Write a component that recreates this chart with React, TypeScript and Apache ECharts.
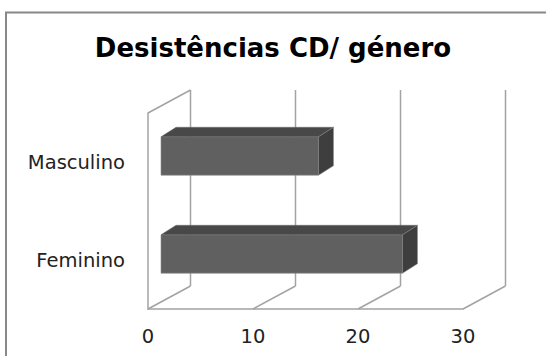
import React, { useEffect, useRef } from "react";
import * as echarts from "echarts";

const titleText = "Desistências CD/ género";
const categories = ["Feminino", "Masculino"];
const values = [23, 15];
const xTicks = [0, 10, 20, 30];

// layout (pixels)
const GRID = { left: 148, top: 113, width: 315, height: 196 };
const BACK = [42.5, -23];
const BAR_FRONT = [13, -6];
const BAR_DEPTH = [15, -9.5];
const BAR_FRAC = 0.392;
const LINE = "#a3a3a3";

export default function App() {
  const ref = useRef<HTMLDivElement>(null);
  useEffect(() => {
    document.body.style.margin = "0";
    const chart = echarts.init(ref.current!, null, { renderer: "svg" });
    const option: any = {
      animation: false,
      backgroundColor: "#ffffff",
      title: {
        text: titleText,
        left: "center",
        top: 30,
        textStyle: { fontFamily: "DejaVu Sans", fontWeight: "bold", fontSize: 26, color: "#000" },
      },
      graphic: [
        {
          type: "rect",
          shape: { x: 6, y: 12.5, width: 600, height: 400 },
          style: { fill: "none", stroke: "#888888", lineWidth: 2 },
          silent: true,
        },
      ],
      grid: { left: GRID.left, top: GRID.top, width: GRID.width, height: GRID.height },
      xAxis: {
        type: "value",
        min: xTicks[0],
        max: xTicks[xTicks.length - 1],
        interval: xTicks[1] - xTicks[0],
        axisLine: { show: true, lineStyle: { color: LINE, width: 1.5 } },
        axisTick: { show: false },
        splitLine: { show: false },
        axisLabel: { fontFamily: "DejaVu Sans", fontSize: 19.5, color: "#222", margin: 17 },
      },
      yAxis: {
        type: "category",
        data: categories,
        axisLine: { show: true, lineStyle: { color: LINE, width: 1.5 } },
        axisTick: { show: false },
        splitLine: { show: false },
        axisLabel: { fontFamily: "DejaVu Sans", fontSize: 19.5, color: "#222", margin: 23 },
      },
      series: [
        {
          type: "custom",
          z: 1,
          silent: true,
          data: xTicks.map((t) => [t, 0]),
          renderItem: (params: any, api: any) => {
            const v = api.value(0);
            const p = api.coord([v, 0]);
            const cs = params.coordSys;
            const x = p[0];
            const top = cs.y;
            const bot = cs.y + cs.height;
            const st = { stroke: LINE, lineWidth: 1.5, fill: "none" };
            const children: any[] = [
              { type: "line", shape: { x1: x + BACK[0], y1: top + BACK[1], x2: x + BACK[0], y2: bot + BACK[1] }, style: st },
              { type: "line", shape: { x1: x, y1: bot, x2: x + BACK[0], y2: bot + BACK[1] }, style: st },
            ];
            if (v === xTicks[0]) {
              children.push({ type: "line", shape: { x1: x, y1: top, x2: x + BACK[0], y2: top + BACK[1] }, style: st });
            }
            return { type: "group", children };
          },
        },
        {
          type: "custom",
          z: 2,
          data: values.map((v, i) => [v, i]),
          renderItem: (params: any, api: any) => {
            const v = api.value(0);
            const c = api.value(1);
            const p0 = api.coord([0, c]);
            const p1 = api.coord([v, c]);
            const band = api.size([0, 1])[1];
            const h = band * BAR_FRAC;
            const x0 = p0[0] + BAR_FRONT[0];
            const x1 = p1[0] + BAR_FRONT[0];
            const cy = p0[1] + BAR_FRONT[1];
            const t = cy - h / 2;
            const b = cy + h / 2;
            const dx = BAR_DEPTH[0];
            const dy = BAR_DEPTH[1];
            return {
              type: "group",
              children: [
                { type: "rect", shape: { x: x0, y: t, width: x1 - x0, height: h }, style: { fill: "#606060", stroke: "#8c8c8c", lineWidth: 0.6 } },
                { type: "polygon", shape: { points: [[x0, t], [x0 + dx, t + dy], [x1 + dx, t + dy], [x1, t]] }, style: { fill: "#484848", stroke: "#6a6a6a", lineWidth: 0.5 } },
                { type: "polygon", shape: { points: [[x1, t], [x1 + dx, t + dy], [x1 + dx, b + dy], [x1, b]] }, style: { fill: "#3e3e3e", stroke: "#8c8c8c", lineWidth: 0.5 } },
              ],
            };
          },
        },
      ],
    };
    chart.setOption(option);
    return () => chart.dispose();
  }, []);
  return <div ref={ref} style={{ width: 546, height: 356 }} />;
}
